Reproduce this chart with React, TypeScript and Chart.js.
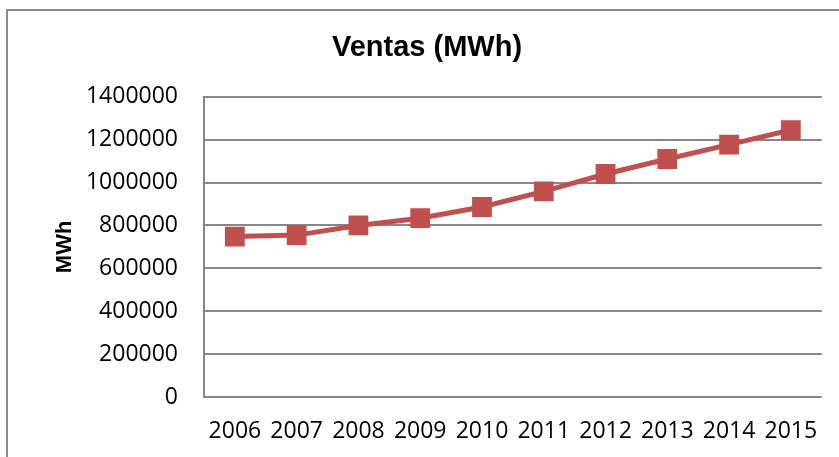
import React, { useEffect, useRef } from "react";
import { Chart, registerables } from "chart.js";

Chart.register(...registerables);

const categories = ["2006", "2007", "2008", "2009", "2010", "2011", "2012", "2013", "2014", "2015"];
const ventas = [748000, 755000, 800000, 834000, 886000, 959000, 1040000, 1110000, 1177000, 1245000];
const yMin = 0;
const yMax = 1400000;
const yStep = 200000;
const chartTitle = "Ventas (MWh)";
const yAxisTitle = "MWh";

const W = 839;
const H = 457;

const framePlugin = {
  id: "frame",
  beforeDraw(chart: any) {
    const ctx = chart.ctx;
    ctx.save();
    ctx.fillStyle = "#ffffff";
    ctx.fillRect(0, 0, chart.width, chart.height);
    ctx.strokeStyle = "#8a8a8a";
    ctx.lineWidth = 2;
    ctx.strokeRect(7, 10, chart.width + 20, chart.height + 20);
    ctx.restore();
  },
};

export default function App() {
  const ref = useRef<HTMLCanvasElement | null>(null);

  useEffect(() => {
    if (!ref.current) return;
    const chart = new Chart(ref.current, {
      type: "line",
      data: {
        labels: categories,
        datasets: [
          {
            label: yAxisTitle,
            data: ventas,
            borderColor: "#C0504D",
            backgroundColor: "#C0504D",
            borderWidth: 5,
            pointStyle: "rect",
            pointRadius: 14,
            pointHoverRadius: 14,
            pointBackgroundColor: "#C0504D",
            pointBorderColor: "#C0504D",
            pointBorderWidth: 0,
            tension: 0,
            yAxisID: "y",
          },
        ],
      },
      options: {
        responsive: false,
        animation: false,
        devicePixelRatio: 1,
        layout: { padding: { left: 16, right: 1, top: 0, bottom: 0 } },
        plugins: {
          legend: { display: false },
          tooltip: { enabled: false },
          title: {
            display: true,
            text: chartTitle,
            color: "#000000",
            font: { family: "'Liberation Sans', Arial, sans-serif", size: 29, weight: "bold", lineHeight: 1.2 },
            padding: { top: 31, bottom: 31 },
          },
        },
        scales: {
          x: {
            offset: true,
            grid: { display: false, drawTicks: false, offset: true },
            border: { display: false },
            ticks: {
              color: "#000000",
              font: { family: "'Open Sans', sans-serif", size: 23 },
              padding: 21,
              autoSkip: false,
              maxRotation: 0,
              minRotation: 0,
            },
            afterFit(scale: any) {
              scale.height = 60;
            },
          },
          y: {
            position: "left",
            min: yMin,
            max: yMax,
            grid: { color: "#878787", lineWidth: 2, drawTicks: false },
            border: { display: true, color: "#878787", width: 2 },
            ticks: {
              stepSize: yStep,
              color: "#000000",
              font: { family: "'Open Sans', sans-serif", size: 23 },
              padding: 26,
              callback: (v: any) => String(v),
            },
            title: {
              display: true,
              text: yAxisTitle,
              color: "#000000",
              font: { family: "'Liberation Sans', Arial, sans-serif", size: 22, weight: "bold", lineHeight: 1.2 },
              padding: { top: 36, bottom: 0 },
            },
            afterFit(scale: any) {
              scale.width = 188;
            },
          },
          y2: {
            position: "right",
            display: true,
            grid: { display: false, drawOnChartArea: false, drawTicks: false },
            border: { display: false },
            ticks: { display: false },
            afterFit(scale: any) {
              scale.width = 16;
            },
          },
        },
      },
      plugins: [framePlugin],
    });
    return () => chart.destroy();
  }, []);

  return (
    <div style={{ position: "absolute", left: 0, top: 0, width: W, height: H }}>
      <canvas ref={ref} width={W} height={H} style={{ display: "block", width: W, height: H }} />
    </div>
  );
}
